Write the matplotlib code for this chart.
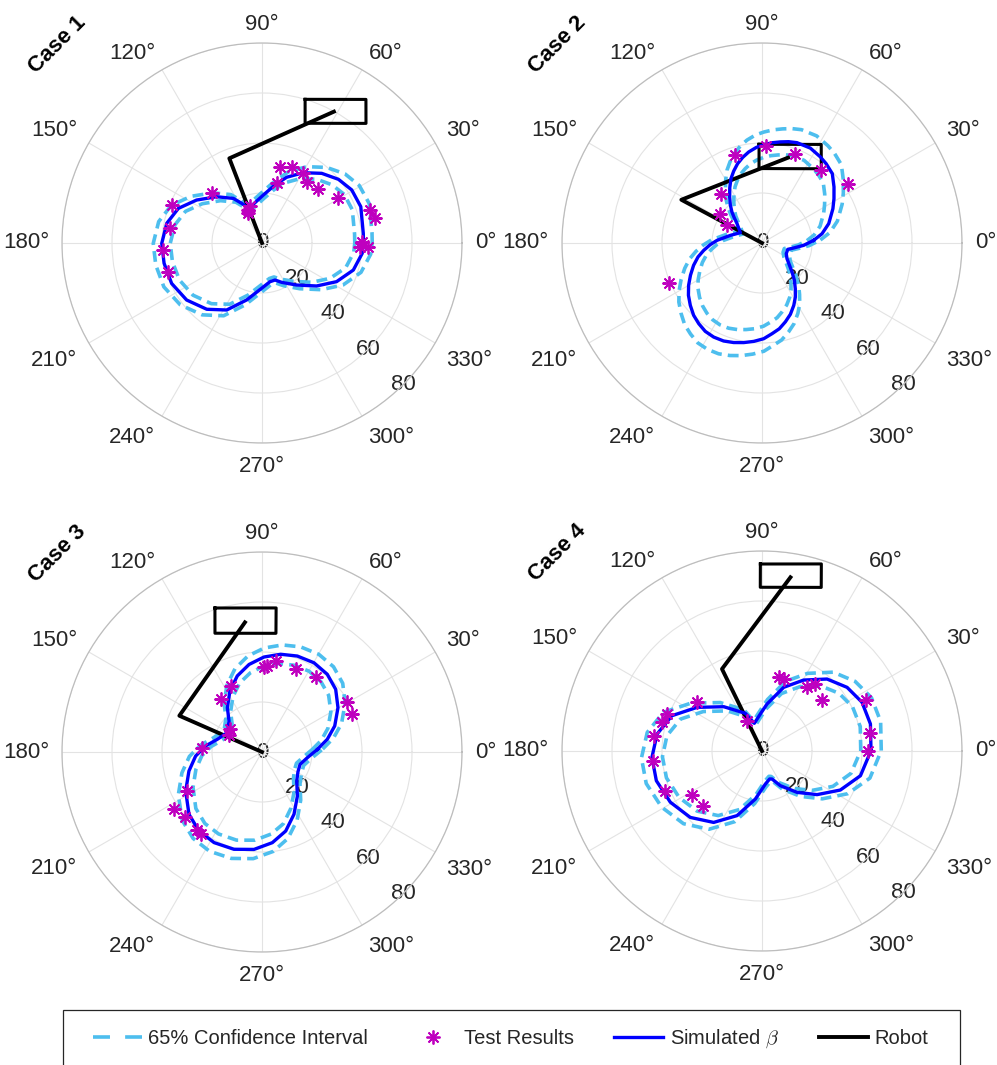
import numpy as np
import matplotlib
matplotlib.use('Agg')
import matplotlib.pyplot as plt
from matplotlib.lines import Line2D
from matplotlib.patches import Rectangle

plt.rcParams['font.family'] = ['Liberation Sans', 'DejaVu Sans']
plt.rcParams['mathtext.fontset'] = 'cm'

# ---- data (angles in degrees, radii in plot units) ----
case_names = ['Case 1', 'Case 2', 'Case 3', 'Case 4']

# simulated beta curves with the 65% confidence band
sim1_theta = [0, 5.4, 20.2, 30.6, 39.8, 49.4, 59.6, 69.4, 77.4, 88.4, 102.6, 110.6, 117.1, 122.7, 134.4, 146.7,
              157.5, 168.3, 180.2, 191.7, 204.1, 217.1, 230.2, 242.2, 254.9, 269.6, 281.7, 289.4, 296.6, 309.5,
              321.8, 332.6, 343.5, 354.1, 360]
sim1_r = [40.6, 40.7, 42.1, 41.7, 39.8, 36.7, 32.6, 28.1, 23.8, 19.2, 15.9, 14.8, 17.8, 21.2, 25.9, 31.3,
          36.2, 38.9, 40.1, 40.0, 39.6, 37.8, 34.5, 30.3, 23.6, 18.1, 15.8, 15.7, 17.6, 21.8,
          27.8, 33.6, 38.1, 40.3, 40.6]
ci1_hi = [44.1, 44.2, 45.7, 45.2, 43.2, 39.8, 35.4, 30.5, 25.8, 20.8, 17.3, 16.1, 19.3, 23.0, 28.1, 34.0,
          39.3, 42.2, 43.5, 43.4, 43.0, 41.0, 37.4, 32.9, 25.6, 19.6, 17.1, 17.0, 19.1, 23.7,
          30.2, 36.5, 41.3, 43.7, 44.1]
ci1_lo = [37.1, 37.2, 38.5, 38.2, 36.4, 33.6, 29.8, 25.7, 21.8, 17.6, 14.5, 13.5, 16.3, 19.4, 23.7, 28.6,
          33.1, 35.6, 36.7, 36.6, 36.2, 34.6, 31.6, 27.7, 21.6, 16.6, 14.5, 14.4, 16.1, 19.9,
          25.4, 30.7, 34.9, 36.9, 37.1]

sim2_theta = [3.0, 8.8, 16.2, 25.8, 31.6, 37.9, 44.6, 51.0, 55.9, 63.0, 70.8, 75.3, 79.7, 84.3, 89.0, 93.4,
              98.3, 102.7, 107.1, 111.5, 115.7, 120.4, 125.1, 129.6, 134.1, 137.9, 142.3, 154.5, 166.4, 176.6,
              181.8, 187.2, 192.3, 198.1, 204.3, 210.0, 215.4, 221.0, 226.6, 231.9, 237.3, 242.8, 248.6, 254.1,
              259.6, 265.2, 271.0, 276.3, 281.4, 286.5, 291.7, 297.0, 301.7, 306.1, 310.9, 316.0, 327.9, 336.3,
              346.1, 351.0, 356.8, 363.0]
sim2_r = [20.7, 24.3, 27.8, 31.5, 33.8, 36.5, 39.5, 40.8, 41.6, 42.6, 42.5, 41.9, 41.1, 40.3, 39.3, 38.3,
          36.8, 35.1, 33.2, 30.9, 28.6, 25.5, 22.5, 19.9, 17.3, 14.9, 12.6, 9.6, 13.0, 18.0,
          20.7, 23.5, 26.2, 28.8, 31.4, 33.9, 36.1, 38.0, 39.8, 41.0, 42.0, 42.3, 42.1, 41.4,
          40.5, 39.5, 38.3, 36.5, 35.0, 32.9, 30.7, 28.0, 25.4, 22.6, 19.8, 16.7, 11.8, 10.6,
          10.6, 12.8, 16.7, 20.7]
ci2_hi = [23.4, 27.5, 31.4, 35.6, 38.2, 41.2, 44.6, 46.1, 47.0, 48.1, 48.0, 47.3, 46.4, 45.5, 44.4, 43.3,
          41.6, 39.7, 37.5, 34.9, 32.3, 28.8, 25.4, 22.5, 19.5, 16.8, 14.2, 10.8, 14.7, 20.3,
          23.4, 26.6, 29.6, 32.5, 35.5, 38.3, 40.8, 42.9, 45.0, 46.3, 47.5, 47.8, 47.6, 46.8,
          45.8, 44.6, 43.3, 41.2, 39.6, 37.2, 34.7, 31.6, 28.7, 25.5, 22.4, 18.9, 13.3, 12.0,
          12.0, 14.5, 18.9, 23.4]
ci2_lo = [18.0, 21.1, 24.2, 27.4, 29.4, 31.8, 34.4, 35.5, 36.2, 37.1, 37.0, 36.5, 35.8, 35.1, 34.2, 33.3,
          32.0, 30.5, 28.9, 26.9, 24.9, 22.2, 19.6, 17.3, 15.1, 13.0, 11.0, 8.4, 11.3, 15.7,
          18.0, 20.4, 22.8, 25.1, 27.3, 29.5, 31.4, 33.1, 34.6, 35.7, 36.5, 36.8, 36.6, 36.0,
          35.2, 34.4, 33.3, 31.8, 30.5, 28.6, 26.7, 24.4, 22.1, 19.7, 17.2, 14.5, 10.3, 9.2,
          9.2, 11.1, 14.5, 18.0]

sim3_theta = [2.8, 11.0, 19.7, 30.3, 40.4, 50.0, 59.8, 69.8, 79.2, 88.8, 98.4, 108.0, 117.7, 128.0, 136.8,
              150.8, 164.2, 173.9, 183.5, 194.6, 207.1, 220.5, 231.4, 242.1, 253.9, 265.3, 276.5, 286.7,
              297.2, 308.8, 320.1, 331.4, 342.0, 352.9, 362.8]
sim3_r = [22.2, 26.6, 30.9, 35.2, 38.7, 40.6, 41.3, 40.9, 39.8, 38.0, 35.4, 32.0, 27.6, 22.5, 18.1,
          15.9, 18.6, 22.7, 26.6, 30.2, 34.3, 38.4, 40.4, 41.0, 40.5, 39.1, 36.5, 33.0,
          28.0, 22.6, 18.1, 16.4, 16.0, 18.3, 22.2]
ci3_hi = [24.3, 29.1, 33.8, 38.5, 42.4, 44.5, 45.2, 44.8, 43.6, 41.6, 38.8, 35.0, 30.2, 24.6, 19.8,
          17.4, 20.4, 24.9, 29.1, 33.1, 37.6, 42.0, 44.2, 44.9, 44.3, 42.8, 40.0, 36.1,
          30.7, 24.7, 19.8, 18.0, 17.5, 20.0, 24.3]
ci3_lo = [20.1, 24.1, 28.0, 31.9, 35.0, 36.7, 37.4, 37.0, 36.0, 34.4, 32.0, 29.0, 25.0, 20.4, 16.4,
          14.4, 16.8, 20.5, 24.1, 27.3, 31.0, 34.8, 36.6, 37.1, 36.7, 35.4, 33.0, 29.9,
          25.3, 20.5, 16.4, 14.8, 14.5, 16.6, 20.1]

sim4_theta = [0.2, 14.0, 26.0, 36.8, 47.9, 59.6, 71.2, 83.9, 92.6, 105.5, 113.9, 130.8, 146.1, 158.6,
              170.8, 183.3, 195.7, 209.2, 222.8, 235.9, 248.9, 262.1, 275.8, 285.3, 289.7, 297.9, 310.3,
              321.6, 333.5, 345.9, 360.2]
sim4_r = [43.6, 44.7, 44.5, 42.5, 38.8, 32.9, 26.9, 18.9, 14.8, 11.5, 16.5, 23.4, 31.3, 38.7,
          42.5, 44.1, 43.9, 42.0, 39.1, 34.5, 27.7, 19.4, 13.3, 11.6, 11.9, 15.7, 21.7,
          28.1, 35.0, 40.6, 43.6]
ci4_hi = [47.7, 48.9, 48.7, 46.5, 42.5, 36.0, 29.5, 20.7, 16.2, 12.6, 18.1, 25.6, 34.3, 42.4,
          46.5, 48.3, 48.1, 46.0, 42.8, 37.8, 30.3, 21.2, 14.6, 12.7, 13.0, 17.2, 23.8,
          30.8, 38.3, 44.5, 47.7]
ci4_lo = [39.5, 40.5, 40.3, 38.5, 35.1, 29.8, 24.3, 17.1, 13.4, 10.4, 14.9, 21.2, 28.3, 35.0,
          38.5, 39.9, 39.7, 38.0, 35.4, 31.2, 25.1, 17.6, 12.0, 10.5, 10.8, 14.2, 19.6,
          25.4, 31.7, 36.7, 39.5]

# test results
test1_theta = [157.2, 135.4, 170.9, 184.1, 197.0, 112.5, 108.0, 115.0, 76.2, 76.6, 68.6, 59.3, 54.0, 43.6,
               30.3, 17.0, 12.3, 0.8, 358.0, 357.9]
test1_r = [39.2, 28.3, 37.3, 39.6, 39.2, 14.3, 15.5, 13.2, 24.6, 31.1, 32.5, 32.4, 30.4, 31.1,
           35.4, 45.2, 46.3, 39.9, 42.6, 39.2]
test2_theta = [107.2, 87.8, 69.9, 51.0, 34.3, 130.3, 145.9, 153.2, 203.3]
test2_r = [37.0, 38.7, 38.0, 37.7, 41.6, 25.5, 20.4, 15.7, 40.5]
test3_theta = [81.5, 86.5, 88.5, 67.8, 54.4, 30.2, 23.0, 115.4, 128.1, 144.5, 152.0, 175.8, 207.5, 212.9,
               220.3, 230.3, 233.5]
test3_r = [36.8, 34.5, 34.0, 35.7, 36.9, 39.5, 39.0, 29.2, 26.8, 15.7, 14.8, 23.9, 33.7, 41.9,
           40.4, 40.5, 40.9]
test4_theta = [77.3, 73.3, 54.7, 51.5, 40.4, 26.1, 9.3, 0.2, 116.3, 143.2, 158.7, 164.0, 171.9, 185.4,
               202.3, 212.2, 222.8]
test4_r = [30.2, 30.1, 31.2, 34.2, 31.5, 46.4, 43.9, 42.3, 13.5, 32.5, 40.8, 41.6, 43.5, 43.8,
           41.8, 33.1, 32.2]

# robot: arm (base, elbow, tip) and body rectangle corners
arm1_theta, arm1_r = [111.1, 111.1, 61.3], [0, 36.3, 59.9]
box1_theta, box1_r = [73.3, 54.1, 49.0, 70.2], [60.0, 70.9, 63.4, 50.9]
arm2_theta, arm2_r = [151.8, 151.8, 73.0], [0, 36.6, 35.7]
box2_theta, box2_r = [91.7, 59.0, 51.4, 92.3], [39.5, 46.0, 38.0, 29.8]
arm3_theta, arm3_r = [156.3, 156.3, 97.5], [0, 36.1, 52.3]
box3_theta, box3_r = [108.1, 84.4, 83.3, 111.6], [60.6, 57.9, 47.8, 51.1]
arm4_theta, arm4_r = [116.0, 116.0, 80.7], [0, 36.5, 70.4]
box4_theta, box4_r = [90.5, 72.4, 70.1, 90.6], [74.8, 78.5, 69.6, 65.5]

theta_ticks = list(range(0, 360, 30))
r_ticks = [0, 20, 40, 60, 80]

cases = [
    (sim1_theta, sim1_r, ci1_hi, ci1_lo, test1_theta, test1_r, arm1_theta, arm1_r, box1_theta, box1_r),
    (sim2_theta, sim2_r, ci2_hi, ci2_lo, test2_theta, test2_r, arm2_theta, arm2_r, box2_theta, box2_r),
    (sim3_theta, sim3_r, ci3_hi, ci3_lo, test3_theta, test3_r, arm3_theta, arm3_r, box3_theta, box3_r),
    (sim4_theta, sim4_r, ci4_hi, ci4_lo, test4_theta, test4_r, arm4_theta, arm4_r, box4_theta, box4_r),
]

ci_color = '#4DBEEE'
sim_color = '#0000FF'
test_color = '#BF00BF'
text_color = '#262626'
star = (8, 2, 0)

W, H = 997, 1065
centers = [(262, 243), (762, 243), (262, 752), (762, 751)]
rad = 200

fig = plt.figure(figsize=(W / 100, H / 100), dpi=100)

for k, (cx, cy) in enumerate(centers):
    st, sr, chi, clo, tt, tr, at, ar, bt, br = cases[k]
    ax = fig.add_axes([(cx - rad) / W, 1 - (cy + rad) / H, 2 * rad / W, 2 * rad / H], projection='polar')

    ax.plot(np.deg2rad(st), chi, color=ci_color, lw=2.6, ls=(0, (3, 1.7)), zorder=2)
    ax.plot(np.deg2rad(st), clo, color=ci_color, lw=2.6, ls=(0, (3, 1.7)), zorder=2)
    ax.plot(np.deg2rad(at), ar, color='black', lw=2.8, zorder=3)
    ax.plot(np.deg2rad(bt + bt[:1]), br + br[:1], color='black', lw=2.2, zorder=3)
    ax.plot(np.deg2rad(st), sr, color=sim_color, lw=2.4, zorder=4)
    ax.plot(np.deg2rad(tt), tr, ls='none', marker=star, ms=10, mew=1.3, color=test_color, zorder=5)

    ax.set_ylim(0, 80)
    ax.set_yticks(r_ticks)
    ax.set_yticklabels([])
    ax.set_xticks(np.deg2rad(theta_ticks))
    ax.set_xticklabels([])
    ax.grid(True, color='#e3e3e3', lw=0.8)
    ax.spines['polar'].set_color('#bdbdbd')
    ax.spines['polar'].set_linewidth(0.9)

    # angle labels sit just outside the rim, aligned away from the centre (MATLAB style)
    for t in theta_ticks:
        c, s = np.cos(np.deg2rad(t)), np.sin(np.deg2rad(t))
        ha = 'left' if c > 0.01 else ('right' if c < -0.01 else 'center')
        va = 'baseline' if s > 0.01 else ('top' if s < -0.01 else 'center')
        ax.text(np.deg2rad(t), 85.2, f'{t}°', ha=ha, va=va, fontsize=16, color=text_color, clip_on=False)
    for rt in r_ticks:
        ax.text(np.deg2rad(315), rt, str(rt), ha='center', va='center', fontsize=16,
                color=text_color, zorder=1)

    fig.text((cx - 205) / W, 1 - (cy - 198) / H, case_names[k], rotation=45, ha='center', va='center',
             fontsize=16, fontweight='bold', color='black')

# legend frame drawn separately so the entries can sit inside it freely
fig.add_artist(Rectangle((63 / W, -6 / H), 897 / W, 61 / H, transform=fig.transFigure,
                         fill=False, ec=text_color, lw=0.9))

handles = [
    Line2D([], [], color=ci_color, lw=2.6, ls=(0, (4.7, 4.2))),
    Line2D([], [], ls='none', marker=star, ms=10, mew=1.3, color=test_color),
    Line2D([], [], color=sim_color, lw=2.4),
    Line2D([], [], color='black', lw=2.8),
]
labels = ['65% Confidence Interval', 'Test Results', r'Simulated $\beta$', 'Robot']
leg = fig.legend(handles, labels, loc='center', bbox_to_anchor=(93 / W, 1 - 1068 / H, 835 / W, 58 / H),
                 mode='expand', ncol=4, fontsize=14.5, handlelength=2.45, handletextpad=0.3,
                 borderpad=0, borderaxespad=0, frameon=False)
for t in leg.get_texts():
    t.set_color(text_color)

fig.savefig('out.png', dpi=100)
